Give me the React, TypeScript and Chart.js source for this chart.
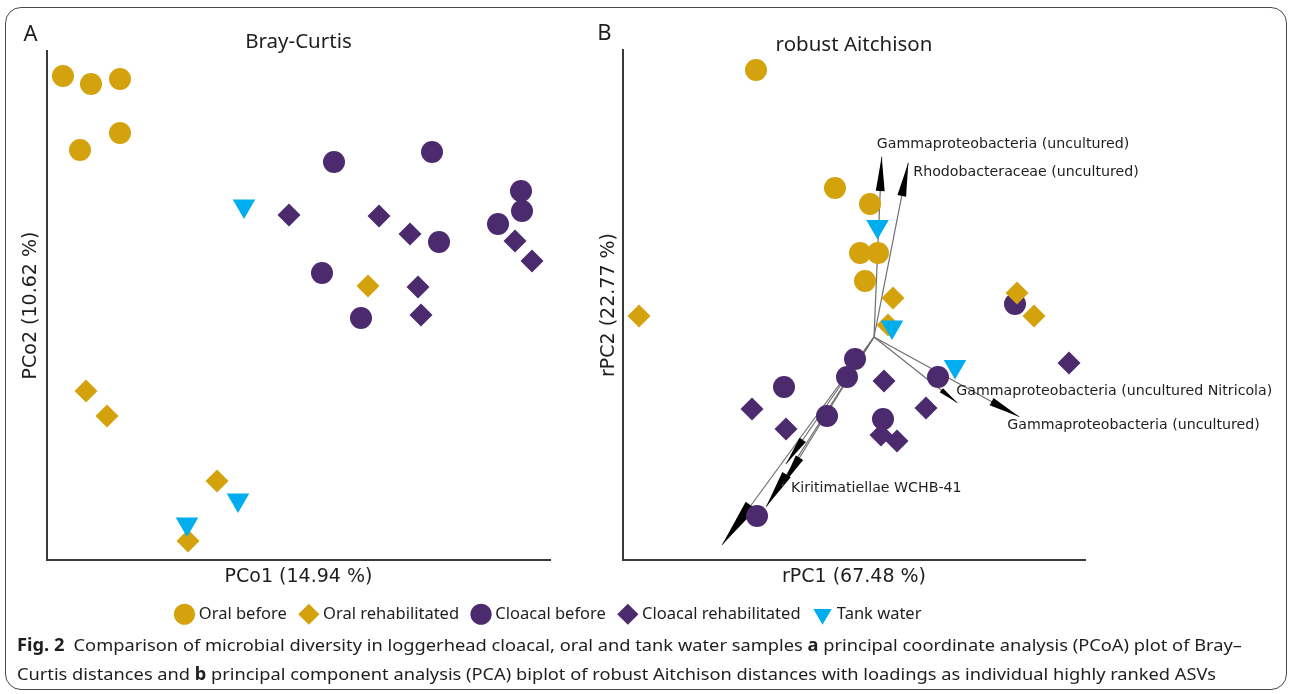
import React, { useEffect, useLayoutEffect, useRef } from "react";
import { Chart, registerables } from "chart.js";

Chart.register(...registerables);

// ---------------- data ----------------
const seriesNames = ["Oral before", "Oral rehabilitated", "Cloacal before", "Cloacal rehabilitated", "Tank water"];

// Panel A: Bray-Curtis PCoA (PCo1, PCo2)
const bcOralBeforeX = [-0.184, -0.156, -0.127, -0.127, -0.167];
const bcOralBeforeY = [0.184, 0.176, 0.181, 0.127, 0.110];
const bcOralRehabX = [0.121, -0.161, -0.140, -0.030, -0.059];
const bcOralRehabY = [-0.026, -0.131, -0.156, -0.221, -0.281];
const bcCloacalBeforeX = [0.087, 0.185, 0.274, 0.275, 0.251, 0.192, 0.075, 0.114];
const bcCloacalBeforeY = [0.098, 0.108, 0.069, 0.049, 0.036, 0.018, -0.013, -0.058];
const bcCloacalRehabX = [0.042, 0.132, 0.163, 0.268, 0.285, 0.171, 0.174];
const bcCloacalRehabY = [0.045, 0.044, 0.026, 0.019, -0.001, -0.027, -0.055];
const bcTankX = [-0.003, -0.009, -0.060];
const bcTankY = [0.054, -0.240, -0.264];

// Panel B: robust Aitchison PCA (rPC1, rPC2)
const raOralBeforeX = [-1.18, -0.39, -0.04, -0.14, 0.04, -0.09];
const raOralBeforeY = [2.67, 1.49, 1.33, 0.84, 0.84, 0.56];
const raOralRehabX = [1.43, 0.19, -2.35, 1.60, 0.14];
const raOralRehabY = [0.44, 0.39, 0.21, 0.21, 0.12];
const raCloacalBeforeX = [1.41, -0.19, -0.27, -0.90, 0.64, -0.47, 0.09, -1.17];
const raCloacalBeforeY = [0.33, -0.22, -0.40, -0.50, -0.40, -0.79, -0.82, -1.79];
const raCloacalRehabX = [0.10, 1.95, -1.22, 0.52, -0.88, 0.07, 0.23];
const raCloacalRehabY = [-0.44, -0.26, -0.72, -0.71, -0.92, -0.98, -1.04];
const raTankX = [0.035, 0.18, 0.81];
const raTankY = [1.105, 0.10, -0.295];

// Loadings (arrow tips, from origin)
const loadingX = [0.077, 0.343, 0.832, 1.452, -0.88, -0.92, -1.08, -1.52];
const loadingY = [1.803, 1.743, -0.657, -0.797, -1.27, -1.49, -1.70, -2.08];
const loadingNames = [
  "Gammaproteobacteria (uncultured)",
  "Rhodobacteraceae (uncultured)",
  "Gammaproteobacteria (uncultured Nitricola)",
  "Gammaproteobacteria (uncultured)",
  "",
  "Kiritimatiellae WCHB-41",
  "",
  "",
];

// ---------------- styles ----------------
const GOLD = "#D4A20C";
const PURPLE = "#4B2A6E";
const CYAN = "#00AEEF";
const AXIS = "#3a3a3a";
const TEXT = "#1e1e1e";
const colors = [GOLD, GOLD, PURPLE, PURPLE, CYAN];
const shapes = ["circle", "rectRot", "circle", "rectRot", "triangle"];
const rotations = [0, 0, 0, 0, 180];
const radii = [11, 11.5, 11, 11.5, 13];
const drawOrder = [2, 1, 4, 3, 0];
// label offsets (px) relative to arrow tips
const labelOffsets: [number, number][] = [[-5, -12], [5, 10], [-1, -11], [-12, 9], [0, 0], [9, 2], [0, 0], [0, 0]];

const pairs = (xs: number[], ys: number[]) => xs.map((x, i) => ({ x, y: ys[i] }));

function seriesDatasets(groups: { x: number; y: number }[][]) {
  return groups.map((data, i) => ({
    label: seriesNames[i],
    data,
    order: drawOrder[i],
    pointStyle: shapes[i],
    pointRotation: rotations[i],
    pointRadius: radii[i],
    pointHoverRadius: radii[i],
    backgroundColor: colors[i],
    borderColor: colors[i],
    borderWidth: 0,
    pointBorderWidth: 0,
  }));
}

const letterPlugin = (text: string, dx: number, y: number) => ({
  id: "panelLetter",
  afterDraw(chart: any) {
    const ctx = chart.ctx;
    ctx.save();
    ctx.font = "22px 'Noto Sans', sans-serif";
    ctx.fillStyle = TEXT;
    ctx.textAlign = "center";
    ctx.textBaseline = "middle";
    ctx.fillText(text, chart.chartArea.left + dx, y);
    ctx.restore();
  },
});

function panelOptions(p: {
  title: string; xTitle: string; yTitle: string;
  xMin: number; xMax: number; yMin: number; yMax: number;
  yAxisW: number; yTitlePad: number; titleTop: number; titleBottom: number; padRight: number;
}) {
  const axisFont = { family: "'DejaVu Sans', sans-serif", size: 19, lineHeight: 1.2 };
  return {
    responsive: false,
    maintainAspectRatio: false,
    animation: false as const,
    events: [] as any[],
    layout: { padding: { left: 0, right: p.padRight, top: 0, bottom: 0 } },
    plugins: {
      legend: { display: false },
      tooltip: { enabled: false },
      title: {
        display: true,
        text: p.title,
        fullSize: false,
        color: TEXT,
        font: { family: "'Noto Sans', sans-serif", size: 20.5, weight: "normal" as const, lineHeight: 0.6 },
        padding: { top: p.titleTop, bottom: p.titleBottom },
      },
    },
    scales: {
      x: {
        type: "linear" as const,
        position: "bottom" as const,
        min: p.xMin,
        max: p.xMax,
        ticks: { display: false },
        grid: { display: false },
        border: { display: true, color: AXIS, width: 2 },
        title: { display: true, text: p.xTitle, color: TEXT, font: axisFont, padding: { top: 0, bottom: 11.6 } },
        afterFit: (s: any) => { s.height = 40; },
      },
      y: {
        type: "linear" as const,
        position: "left" as const,
        min: p.yMin,
        max: p.yMax,
        ticks: { display: false },
        grid: { display: false },
        border: { display: true, color: AXIS, width: 2 },
        title: { display: true, text: p.yTitle, color: TEXT, font: axisFont, padding: { top: p.yTitlePad, bottom: 0 } },
        afterFit: (s: any) => { s.width = p.yAxisW; },
      },
    },
  };
}

const arrowPlugin = {
  id: "loadingArrows",
  afterDatasetDraw(chart: any, args: any) {
    const i = args.index - seriesNames.length;
    if (i < 0) return;
    const pts = args.meta.data;
    if (!pts || pts.length < 2) return;
    const p0 = pts[0], p1 = pts[1];
    const dx = p1.x - p0.x, dy = p1.y - p0.y;
    const L = Math.hypot(dx, dy);
    const ux = dx / L, uy = dy / L;
    const hl = L * 0.19;
    const hw = hl * 0.13;
    const bx = p1.x - ux * hl, by = p1.y - uy * hl;
    const ctx = chart.ctx;
    ctx.save();
    ctx.fillStyle = "#000";
    ctx.beginPath();
    ctx.moveTo(p1.x, p1.y);
    ctx.lineTo(bx - uy * hw, by + ux * hw);
    ctx.lineTo(bx + uy * hw, by - ux * hw);
    ctx.closePath();
    ctx.fill();
    ctx.restore();
  },
  afterDraw(chart: any) {
    const ctx = chart.ctx;
    ctx.save();
    ctx.font = "14.2px 'DejaVu Sans', sans-serif";
    ctx.fillStyle = TEXT;
    ctx.textAlign = "left";
    ctx.textBaseline = "middle";
    loadingNames.forEach((name, i) => {
      if (!name) return;
      const meta = chart.getDatasetMeta(seriesNames.length + i);
      const tip = meta.data[1];
      ctx.fillText(name, tip.x + labelOffsets[i][0], tip.y + labelOffsets[i][1]);
    });
    ctx.restore();
  },
};

const captionLine1Bold = "Fig. 2";
const captionLine1 = "Comparison of microbial diversity in loggerhead cloacal, oral and tank water samples ";
const captionLine1b = " principal coordinate analysis (PCoA) plot of Bray–";
const captionLine2a = "Curtis distances and ";
const captionLine2b = " principal component analysis (PCA) biplot of robust Aitchison distances with loadings as individual highly ranked ASVs";

export default function App() {
  const refA = useRef<HTMLCanvasElement>(null);
  const refB = useRef<HTMLCanvasElement>(null);
  const refL = useRef<HTMLCanvasElement>(null);
  const cap1 = useRef<HTMLDivElement>(null);
  const cap2 = useRef<HTMLDivElement>(null);

  useLayoutEffect(() => {
    const fit = (el: HTMLDivElement | null, w: number) => {
      if (!el) return;
      el.style.transform = "none";
      const k = w / el.getBoundingClientRect().width;
      el.style.transform = `scaleX(${k})`;
    };
    fit(cap1.current, 1225);
    fit(cap2.current, 1199);
  }, []);

  useEffect(() => {
    const charts: Chart[] = [];
    const dsA = seriesDatasets([
      pairs(bcOralBeforeX, bcOralBeforeY),
      pairs(bcOralRehabX, bcOralRehabY),
      pairs(bcCloacalBeforeX, bcCloacalBeforeY),
      pairs(bcCloacalRehabX, bcCloacalRehabY),
      pairs(bcTankX, bcTankY),
    ]);
    charts.push(
      new Chart(refA.current!, {
        type: "scatter",
        data: { datasets: dsA as any },
        options: panelOptions({
          title: "Bray-Curtis", xTitle: "PCo1 (14.94 %)", yTitle: "PCo2 (10.62 %)",
          xMin: -0.2, xMax: 0.303, yMin: -0.3, yMax: 0.209,
          yAxisW: 47, yTitlePad: 19.4, titleTop: 36.2, titleBottom: 2.5, padRight: 40,
        }) as any,
        plugins: [letterPlugin("A", -16.5, 35)],
      })
    );

    const dsB: any[] = seriesDatasets([
      pairs(raOralBeforeX, raOralBeforeY),
      pairs(raOralRehabX, raOralRehabY),
      pairs(raCloacalBeforeX, raCloacalBeforeY),
      pairs(raCloacalRehabX, raCloacalRehabY),
      pairs(raTankX, raTankY),
    ]);
    loadingX.forEach((x, i) => {
      dsB.push({
        label: loadingNames[i] || "loading",
        data: [{ x: 0, y: 0 }, { x, y: loadingY[i] }],
        showLine: true,
        order: 10,
        pointRadius: 0,
        pointHoverRadius: 0,
        borderColor: "#6e6e6e",
        borderWidth: 1.2,
        backgroundColor: "#6e6e6e",
        clip: false,
      });
    });
    charts.push(
      new Chart(refB.current!, {
        type: "scatter",
        data: { datasets: dsB },
        options: panelOptions({
          title: "robust Aitchison", xTitle: "rPC1 (67.48 %)", yTitle: "rPC2 (22.77 %)",
          xMin: -2.51, xMax: 2.11, yMin: -2.23, yMax: 2.87,
          yAxisW: 43, yTitlePad: 17.2, titleTop: 38.6, titleBottom: -0.9, padRight: 205,
        }) as any,
        plugins: [letterPlugin("B", -18.5, 34), arrowPlugin],
      })
    );

    const dsL = seriesDatasets([[], [], [], [], []]);
    charts.push(
      new Chart(refL.current!, {
        type: "scatter",
        data: { datasets: dsL as any },
        options: {
          responsive: false,
          maintainAspectRatio: false,
          animation: false,
          events: [],
          layout: { padding: 0 },
          scales: { x: { display: false }, y: { display: false } },
          plugins: {
            tooltip: { enabled: false },
            legend: {
              display: true,
              position: "top",
              labels: {
                usePointStyle: true,
                boxWidth: 12,
                boxHeight: 15,
                padding: 16,
                color: TEXT,
                font: { family: "'Noto Sans', sans-serif", size: 16.5 },
                sort: (a: any, b: any) => a.datasetIndex - b.datasetIndex,
              },
            },
          },
        } as any,
      })
    );
    return () => charts.forEach((c) => c.destroy());
  }, []);

  const capStyle: React.CSSProperties = {
    position: "absolute",
    left: 17,
    whiteSpace: "nowrap",
    fontFamily: "'Noto Sans', sans-serif",
    fontSize: 17,
    lineHeight: "20px",
    color: TEXT,
    transformOrigin: "0 50%",
  };

  return (
    <div style={{ position: "absolute", left: 0, top: 0, width: 1290, height: 694, background: "#fff", overflow: "hidden" }}>
      <div
        style={{
          position: "absolute", left: 5, top: 7, width: 1282, height: 683, boxSizing: "border-box",
          border: "1.5px solid #4a4a4a", borderRadius: 16,
        }}
      />
      <canvas ref={refA} width={590} height={600} style={{ position: "absolute", left: 0, top: 0, width: 590, height: 600 }} />
      <canvas ref={refB} width={710} height={600} style={{ position: "absolute", left: 580, top: 0, width: 710, height: 600 }} />
      <canvas ref={refL} width={1100} height={104} style={{ position: "absolute", left: 0, top: 590, width: 1100, height: 104 }} />
      <div ref={cap1} style={{ ...capStyle, top: 635 }}>
        <b>{captionLine1Bold}</b>{"\u2002"}{captionLine1}<b>a</b>{captionLine1b}
      </div>
      <div ref={cap2} style={{ ...capStyle, top: 664 }}>
        {captionLine2a}<b>b</b>{captionLine2b}
      </div>
    </div>
  );
}
